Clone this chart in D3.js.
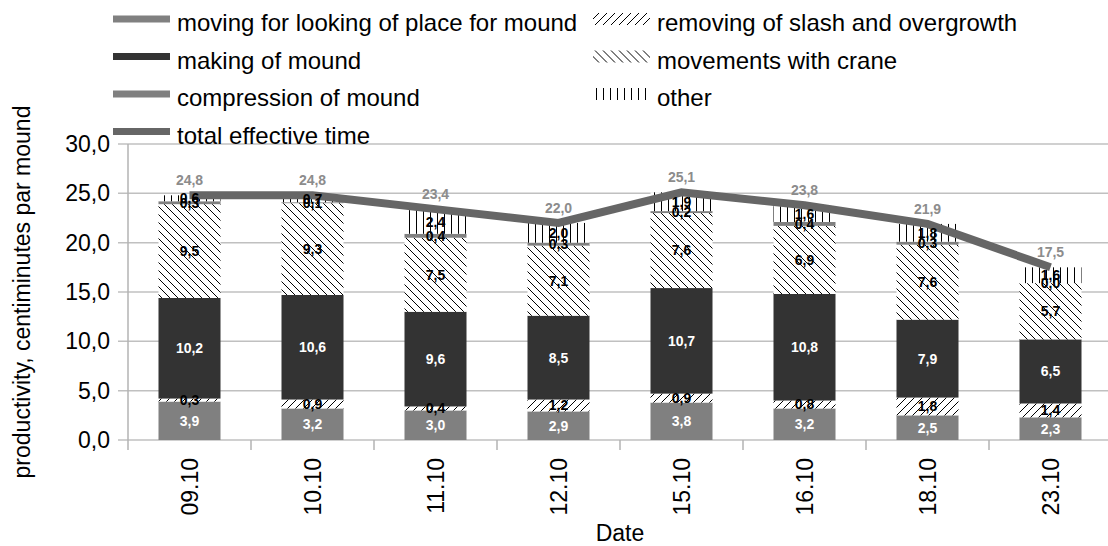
<!DOCTYPE html>
<html>
<head>
<meta charset="utf-8">
<script src="https://cdn.jsdelivr.net/npm/d3@7"></script>
<style>
  body { margin: 0; background: #fff; }
  text { font-family: "Liberation Sans", Arial, sans-serif; }
</style>
</head>
<body>
<div id="chart"></div>
<script>
// data
var dates = ["09.10", "10.10", "11.10", "12.10", "15.10", "16.10", "18.10", "23.10"];
var moving = [3.9, 3.2, 3.0, 2.9, 3.8, 3.2, 2.5, 2.3];
var removing = [0.3, 0.9, 0.4, 1.2, 0.9, 0.8, 1.8, 1.4];
var making = [10.2, 10.6, 9.6, 8.5, 10.7, 10.8, 7.9, 6.5];
var crane = [9.5, 9.3, 7.5, 7.1, 7.6, 6.9, 7.6, 5.7];
var compression = [0.3, 0.1, 0.4, 0.3, 0.2, 0.4, 0.3, 0.0];
var other = [0.6, 0.7, 2.4, 2.0, 1.9, 1.6, 1.8, 1.6];
var total = [24.8, 24.8, 23.4, 22.0, 25.1, 23.8, 21.9, 17.5];
var yTicks = [0, 5, 10, 15, 20, 25, 30];

var series = [
  {key: "moving", name: "moving for looking of place for mound", values: moving, fill: "#808080", label: "#fff"},
  {key: "removing", name: "removing of slash and overgrowth", values: removing, fill: "url(#hatchUp)", label: "#000"},
  {key: "making", name: "making of mound", values: making, fill: "#333333", label: "#fff"},
  {key: "crane", name: "movements with crane", values: crane, fill: "url(#hatchDown)", label: "#000"},
  {key: "compression", name: "compression of mound", values: compression, fill: "#808080", label: "#000"},
  {key: "other", name: "other", values: other, fill: "url(#hatchVert)", label: "#000"}
];

var width = 1108, height = 546;
var margin = {left: 128, right: 1112, top: 144, bottom: 440};
var fmt = function(v) { return d3.format(".1f")(v).replace(".", ","); };

var svg = d3.select("#chart").append("svg")
    .attr("width", width)
    .attr("height", height);

var defs = svg.append("defs");
function pattern(id, w, d) {
  var p = defs.append("pattern")
      .attr("id", id)
      .attr("patternUnits", "userSpaceOnUse")
      .attr("width", w)
      .attr("height", 8);
  p.append("rect").attr("width", w).attr("height", 8).attr("fill", "#fff");
  p.append("path").attr("d", d).attr("stroke", "#000").attr("stroke-width", 1).attr("fill", "none");
}
pattern("hatchUp", 8, "M-2,2 L2,-2 M0,8 L8,0 M6,10 L10,6");
pattern("hatchDown", 8, "M-2,6 L2,10 M0,0 L8,8 M6,-2 L10,2");
pattern("hatchVert", 7, "M3.5,0 L3.5,8");

var x = d3.scaleBand()
    .domain(dates)
    .range([margin.left, margin.right])
    .paddingInner(0).paddingOuter(0);
var y = d3.scaleLinear()
    .domain([0, 30])
    .range([margin.bottom, margin.top]);

// grid
svg.append("g").selectAll("line")
    .data(yTicks)
    .enter().append("line")
    .attr("x1", margin.left - 10)
    .attr("x2", margin.right)
    .attr("y1", d => y(d))
    .attr("y2", d => y(d))
    .attr("stroke", "#c0c0c0")
    .attr("stroke-width", 1.5);

// y labels
svg.append("g").selectAll("text")
    .data(yTicks)
    .enter().append("text")
    .attr("x", 110)
    .attr("y", d => y(d))
    .attr("dy", "0.35em")
    .attr("text-anchor", "end")
    .style("font-size", "23px")
    .attr("fill", "#000")
    .text(d => fmt(d));

// axes lines
svg.append("line")
    .attr("x1", margin.left).attr("x2", margin.left)
    .attr("y1", margin.top).attr("y2", margin.bottom)
    .attr("stroke", "#b3b3b3").attr("stroke-width", 1.5);
svg.append("g").selectAll("line")
    .data(d3.range(dates.length + 1))
    .enter().append("line")
    .attr("x1", d => margin.left + d * x.bandwidth())
    .attr("x2", d => margin.left + d * x.bandwidth())
    .attr("y1", margin.bottom)
    .attr("y2", margin.bottom + 10)
    .attr("stroke", "#b3b3b3").attr("stroke-width", 1.5);

// stacked bars
var rows = dates.map(function(d, i) {
  var r = {date: d};
  series.forEach(s => { r[s.key] = s.values[i]; });
  return r;
});
var stack = d3.stack().keys(series.map(s => s.key))(rows);
var barW = 62;

var layers = svg.append("g").selectAll("g")
    .data(stack)
    .enter().append("g")
    .attr("fill", (d, i) => series[i].fill);
layers.selectAll("rect")
    .data(d => d)
    .enter().append("rect")
    .attr("x", d => x(d.data.date) + x.bandwidth() / 2 - barW / 2)
    .attr("width", barW)
    .attr("y", d => y(d[1]))
    .attr("height", d => y(d[0]) - y(d[1]));

// total line
var line = d3.line()
    .x((d, i) => x(dates[i]) + x.bandwidth() / 2)
    .y(d => y(d));
svg.append("path")
    .datum(total)
    .attr("d", line)
    .attr("fill", "none")
    .attr("stroke", "#666666")
    .attr("stroke-width", 8);

// segment labels
stack.forEach(function(layer, li) {
  svg.append("g").selectAll("text")
      .data(layer)
      .enter().append("text")
      .attr("x", d => x(d.data.date) + x.bandwidth() / 2)
      .attr("y", d => y((d[0] + d[1]) / 2))
      .attr("dy", "0.35em")
      .attr("text-anchor", "middle")
      .style("font-size", "14px")
      .style("font-weight", "bold")
      .attr("fill", series[li].label)
      .text((d, i) => fmt(series[li].values[i]));
});

// total labels
svg.append("g").selectAll("text")
    .data(total)
    .enter().append("text")
    .attr("x", (d, i) => x(dates[i]) + x.bandwidth() / 2)
    .attr("y", d => y(d) - 10)
    .attr("text-anchor", "middle")
    .style("font-size", "14px")
    .style("font-weight", "bold")
    .attr("fill", "#8c8c8c")
    .text(d => fmt(d));

// x labels
svg.append("g").selectAll("text")
    .data(dates)
    .enter().append("text")
    .attr("transform", d => "translate(" + (x(d) + x.bandwidth() / 2) + ",458) rotate(-90)")
    .attr("dy", "0.35em")
    .attr("text-anchor", "end")
    .style("font-size", "23px")
    .text(d => d);

svg.append("text")
    .attr("x", (margin.left + margin.right) / 2)
    .attr("y", 541)
    .attr("text-anchor", "middle")
    .style("font-size", "23px")
    .text("Date");

svg.append("text")
    .attr("transform", "translate(30," + ((margin.top + margin.bottom) / 2) + ") rotate(-90)")
    .attr("text-anchor", "middle")
    .style("font-size", "23px")
    .text("productivity, centiminutes par mound");

// legend
var legendItems = [
  {name: series[0].name, fill: series[0].fill, col: 0, row: 0, hatch: false},
  {name: series[2].name, fill: series[2].fill, col: 0, row: 1, hatch: false},
  {name: series[4].name, fill: series[4].fill, col: 0, row: 2, hatch: false},
  {name: "total effective time", fill: "#666666", col: 0, row: 3, hatch: false},
  {name: series[1].name, fill: series[1].fill, col: 1, row: 0, hatch: true},
  {name: series[3].name, fill: series[3].fill, col: 1, row: 1, hatch: true},
  {name: series[5].name, fill: series[5].fill, col: 1, row: 2, hatch: true}
];
var colX = [113, 593];
var lg = svg.append("g").selectAll("g")
    .data(legendItems)
    .enter().append("g")
    .attr("transform", d => "translate(" + colX[d.col] + "," + (19 + d.row * 37.5) + ")");
lg.append("rect")
    .attr("x", 0)
    .attr("y", d => d.hatch ? -6 : -3.5)
    .attr("width", 57)
    .attr("height", d => d.hatch ? 12 : 7)
    .attr("fill", d => d.fill);
lg.append("text")
    .attr("x", 64)
    .attr("y", 12)
    .style("font-size", "24px")
    .text(d => d.name);
</script>
</body>
</html>
